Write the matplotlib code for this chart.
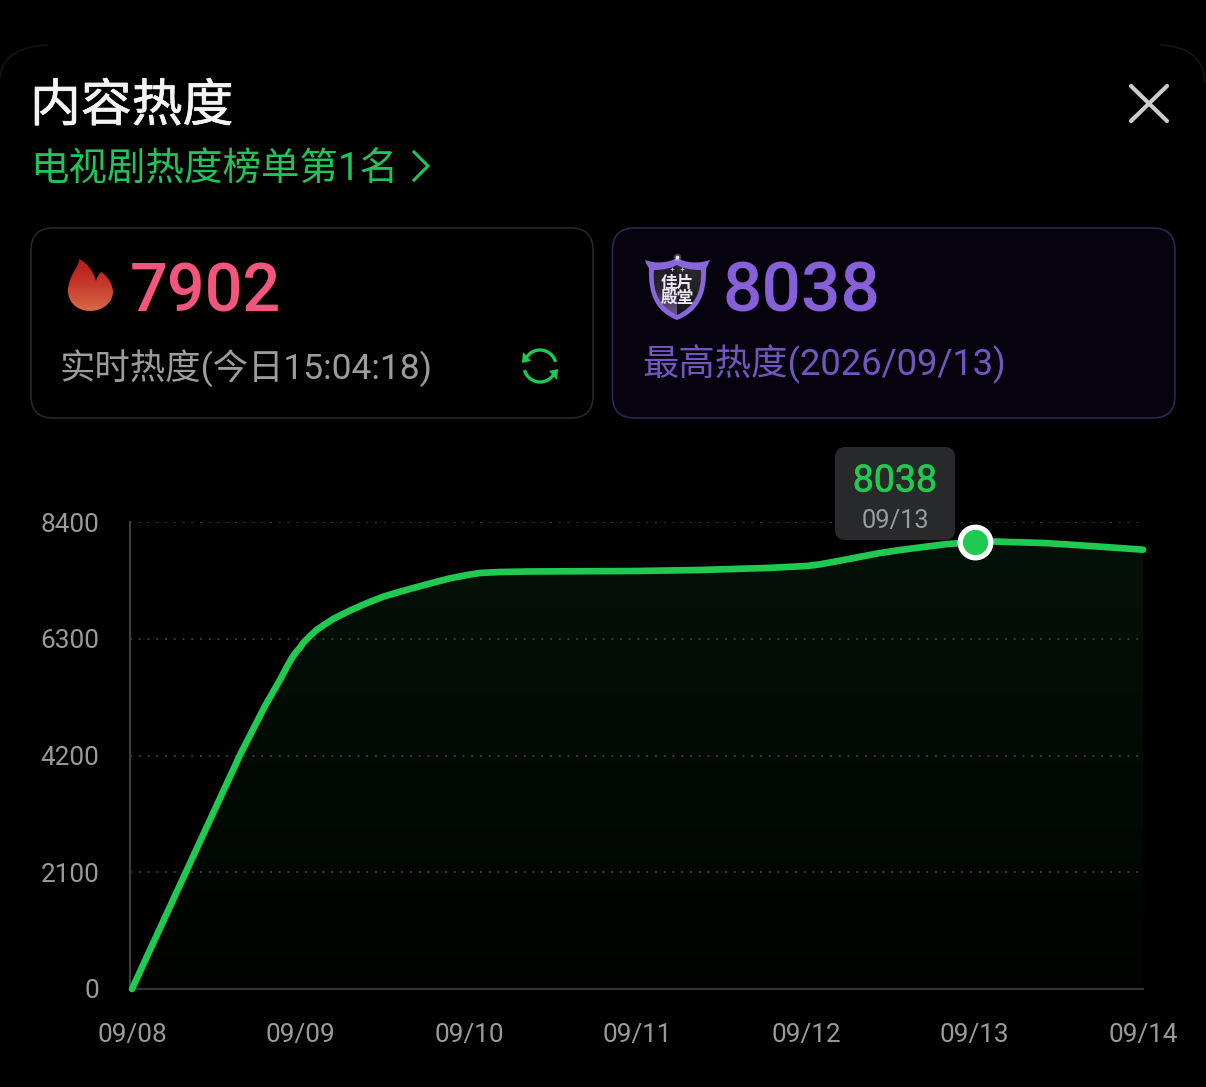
import numpy as np
import matplotlib
matplotlib.use('Agg')
import matplotlib.pyplot as plt
import matplotlib.patheffects as pe
from matplotlib.patches import FancyBboxPatch, PathPatch, Arc, Polygon
from matplotlib.path import Path
from matplotlib.colors import LinearSegmentedColormap

plt.rcParams['font.family'] = ['Roboto', 'Noto Sans CJK SC', 'DejaVu Sans']

# values
date_labels = ['09/08', '09/09', '09/10', '09/11', '09/12', '09/13', '09/14']
y_ticks = [0, 2100, 4200, 6300, 8400]

# curve (day offset from 09/08, heat value)
curve_days = [0, 0.320, 0.641, 0.789, 0.878, 0.925, 0.955, 0.979, 1.0, 1.015, 1.056, 1.098, 1.193, 1.294, 1.395,
              1.490, 1.590, 1.691, 1.786, 1.887, 2.006, 2.065, 2.184, 2.362, 3.0, 3.371, 3.769,
              4.006, 4.083, 4.160, 4.439, 4.558, 4.837, 5.0, 5.11, 5.43, 5.715, 6.0]
curve_values = [0, 2104, 4209, 5090, 5558, 5828, 5981, 6080, 6152, 6223, 6349, 6466, 6655, 6808, 6943,
                7056, 7146, 7231, 7308, 7387, 7456, 7483, 7501, 7510, 7519, 7537, 7573,
                7609, 7639, 7681, 7842, 7896, 8004, 8038, 8050, 8020, 7963, 7902]

peak_day = 5
peak_value = 8038
live_value = '7902'
live_label = '实时热度(今日15:04:18)'
best_value = '8038'
best_label = '最高热度(2026/09/13)'

GREEN = '#20C950'
W, H = 1206, 1087

fig = plt.figure(figsize=(W / 100, H / 100), dpi=100, facecolor='black')

# pixel axes for the app chrome round the chart
ui = fig.add_axes([0, 0, 1, 1], zorder=1)
ui.set_xlim(0, W)
ui.set_ylim(H, 0)
ui.axis('off')

# panel corners, very faint
for verts in ([(0, 78), (2, 55), (22, 46), (48, 45)], [(1160, 45), (1188, 46), (1204, 58), (1205, 82)]):
    ui.add_patch(PathPatch(Path(verts, [Path.MOVETO, Path.CURVE4, Path.CURVE4, Path.CURVE4]),
                           fc='none', ec='#141414', lw=1.2))

ui.text(30, 107, '内容热度', color='#f4f4f4', fontsize=36.6, va='center',
        path_effects=[pe.withStroke(linewidth=0.5, foreground='#f4f4f4')])
ui.text(30, 170, '电视剧热度榜单第1名', color='#22C45A', fontsize=27.7, va='center')
ui.plot([414, 428, 414], [152, 166, 180], color='#22C45A', lw=2.2, solid_joinstyle='miter')

# close button
ui.plot([1131, 1167], [86, 121], color='#cccccc', lw=3, solid_capstyle='round')
ui.plot([1167, 1131], [86, 121], color='#cccccc', lw=3, solid_capstyle='round')

# two cards
ui.add_patch(FancyBboxPatch((31, 228), 562, 190, boxstyle='round,pad=0,rounding_size=22',
                            fc='black', ec='#2a2a2a', lw=1.1))
ui.add_patch(FancyBboxPatch((612.5, 228), 562.5, 190, boxstyle='round,pad=0,rounding_size=22',
                            fc='#06030E', ec='#2E2A55', lw=1.1))

ui.text(130, 294, live_value, color='#F4557C', fontsize=48, weight='medium', va='center')
ui.text(59, 368.5, live_label, color='#9c9c9c', fontsize=25.5, va='center')
ui.text(722, 292, best_value, color='#8560D8', fontsize=50, weight='medium', va='center')
ui.text(642, 364, best_label, color='#7355C0', fontsize=26.2, va='center')

# flame icon
flame_verts = [(79, 259), (86, 262), (93, 270), (96, 281),
               (97, 277), (99, 274), (101, 272),
               (108, 276), (113, 285), (113, 292),
               (113, 303), (102, 311), (90, 311),
               (78, 311), (68, 303), (68, 291),
               (68, 282), (72, 275), (76, 268),
               (78, 265), (79, 262), (79, 259), (79, 259)]
flame_codes = [Path.MOVETO] + [Path.CURVE4] * 21 + [Path.CLOSEPOLY]
flame = PathPatch(Path(flame_verts, flame_codes), fc='none', ec='none')
ui.add_patch(flame)
flame_cmap = LinearSegmentedColormap.from_list('flame', ['#B5191C', '#C63A2B', '#D96B46'])
im = ui.imshow(np.linspace(0, 1, 64)[:, None], cmap=flame_cmap, extent=(66, 116, 312, 258), aspect='auto', zorder=2)
im.set_clip_path(flame)

# refresh icon
for t1, t2 in ((198, 345), (18, 165)):
    ui.add_patch(Arc((540, 366), 32, 32, theta1=t1, theta2=t2, color=GREEN, lw=2.4))
ui.add_patch(Polygon([(523, 352), (531, 361), (522, 363)], fc=GREEN, ec='none'))
ui.add_patch(Polygon([(557, 380), (549, 371), (558, 369)], fc=GREEN, ec='none'))

# shield icon
shield_outer = Path([(645, 260), (656, 264), (668, 263), (677, 258), (686, 263), (698, 264), (710, 260),
                     (707, 267), (707, 267), (706, 268),
                     (707, 295), (698, 312), (677, 320),
                     (656, 312), (648, 295), (649, 268),
                     (648, 267), (647, 266), (645, 260)],
                    [Path.MOVETO] + [Path.CURVE4] * 18)
shield_inner = Path([(654, 270), (664, 270), (672, 268), (677, 265), (682, 268), (690, 270), (701, 270),
                     (702, 293), (694, 307), (677, 315),
                     (660, 307), (652, 293), (654, 270)],
                    [Path.MOVETO] + [Path.CURVE4] * 12)
ui.add_patch(PathPatch(shield_outer, fc='#8A66DE', ec='none', zorder=2))
inner_left = PathPatch(shield_inner, fc='none', ec='none')
ui.add_patch(inner_left)
shield_cmap = LinearSegmentedColormap.from_list('shield', ['#1c1a22', '#2c2733', '#6d5a8c'])
im2 = ui.imshow(np.linspace(0, 1, 64)[:, None], cmap=shield_cmap, extent=(650, 677, 316, 264), aspect='auto', zorder=3)
im2.set_clip_path(inner_left)
shield_right = LinearSegmentedColormap.from_list('shield2', ['#2b2a2e', '#17161b'])
im3 = ui.imshow(np.linspace(0, 1, 64)[:, None], cmap=shield_right, extent=(677, 704, 316, 264), aspect='auto', zorder=3)
inner_right = PathPatch(shield_inner, fc='none', ec='none')
ui.add_patch(inner_right)
im3.set_clip_path(inner_right)
ui.text(677, 283, '佳片', color='#ece8f8', fontsize=12, weight='bold', ha='center', va='center', zorder=4)
ui.text(677, 298, '殿堂', color='#ece8f8', fontsize=12, weight='bold', ha='center', va='center', zorder=4)
ui.scatter([677], [257], s=30, color='white', alpha=0.25, linewidths=0, zorder=4)
ui.scatter([677], [257], s=7, color='white', alpha=0.9, linewidths=0, zorder=4)
ui.scatter([672, 682], [269, 269], s=8, marker='+', color='#c8c4d0', linewidths=0.6, zorder=4)
ui.set_xlim(0, W)
ui.set_ylim(H, 0)

# the chart itself
x_left, x_right, y_top, y_bottom = 129.5, 1143, 522, 989
ax = fig.add_axes([x_left / W, 1 - y_bottom / H, (x_right - x_left) / W, (y_bottom - y_top) / H], zorder=2)
ax.patch.set_alpha(0)
day_px = (1143 - 132) / 6

fill = ax.fill_between(curve_days, curve_values, 0, facecolor='none', edgecolor='none')
fill_cmap = LinearSegmentedColormap.from_list('fill', ['#010301', '#041108'])
grad = ax.imshow(np.linspace(1, 0, 64)[:, None], cmap=fill_cmap, extent=(0, 6, 0, 8100), aspect='auto', zorder=0.5)
grad.set_clip_path(fill.get_paths()[0], transform=ax.transData)
ax.set_xlim(-(132 - x_left) / day_px, 6)
ax.set_ylim(0, 8400)

ax.set_axisbelow(False)
ax.set_yticks(y_ticks)
ax.set_xticks(range(len(date_labels)))
ax.set_xticklabels(date_labels)
ax.grid(axis='y', color='#3a3a3a', lw=1.4, linestyle=(0, (1, 3.5)), zorder=1)
ax.tick_params(axis='both', length=0, labelsize=18.8, labelcolor='#9a9a9a')
ax.tick_params(axis='x', pad=24.5)
ax.tick_params(axis='y', pad=21.5)
for s in ('top', 'right'):
    ax.spines[s].set_visible(False)
ax.spines['left'].set_color('#3d3d3d')
ax.spines['left'].set_linewidth(1.5)
ax.spines['bottom'].set_color('#333333')
ax.spines['bottom'].set_linewidth(1.5)

# tooltip sits over the grid but under the marker
ax.add_patch(FancyBboxPatch((835, 447), 120, 93, boxstyle='round,pad=0,rounding_size=10', fc='#28292B', ec='none',
                            transform=ui.transData, clip_on=False, zorder=4))
ax.text(895, 481, str(peak_value), color=GREEN, fontsize=27, ha='center', va='center',
        transform=ui.transData, zorder=5, path_effects=[pe.withStroke(linewidth=0.5, foreground=GREEN)])
ax.text(895, 521, date_labels[peak_day], color='#9a9a9a', fontsize=18.4, ha='center', va='center',
        transform=ui.transData, zorder=5)

ax.plot(curve_days, curve_values, color=GREEN, lw=4.8, solid_capstyle='round', solid_joinstyle='round',
        clip_on=False, zorder=6)
ax.plot([peak_day], [peak_value], 'o', ms=22, mfc=GREEN, mec='white', mew=3.8, clip_on=False, zorder=7)

fig.savefig('out.png', dpi=100, facecolor='black')
